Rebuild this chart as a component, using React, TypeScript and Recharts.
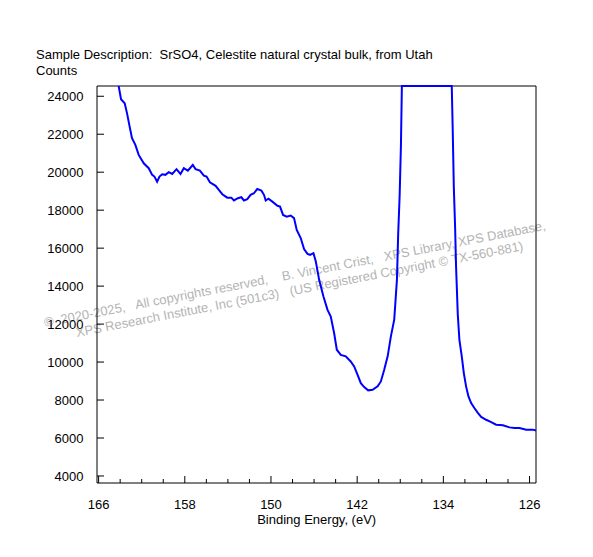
import React from 'react'
import { LineChart, Line, XAxis, YAxis, CartesianGrid } from 'recharts'

// binding energy (eV) and counts
const energies = [
  164.14, 163.92, 163.58, 163.36, 163.12, 162.9, 162.59, 162.28, 161.81, 161.35,
  161.03, 160.82, 160.57, 160.35, 160.1, 159.8, 159.49, 159.17, 158.77, 158.4,
  158.09, 157.72, 157.26, 157.0, 156.6, 156.23, 155.98, 155.67, 155.14, 154.84,
  154.52, 154.06, 153.68, 153.44, 153.07, 152.75, 152.51, 152.2, 151.89, 151.58,
  151.27, 150.89, 150.65, 150.49, 150.24, 149.87, 149.4, 149.16, 148.88, 148.54,
  148.17, 147.86, 147.61, 147.24, 146.93, 146.61, 146.37, 146.06, 145.84, 145.53,
  145.13, 144.75, 144.45, 144.14, 143.89, 143.52, 143.06, 142.6, 142.28, 141.96,
  141.66, 141.35, 140.98, 140.57, 140.1, 139.8, 139.49, 139.17, 138.87, 138.56,
  138.31, 138.19, 138.06, 137.94, 137.85, 133.22, 133.13, 133.03, 132.91, 132.82,
  132.66, 132.51, 132.29, 132.1, 131.89, 131.67, 131.42, 131.12, 130.8, 130.49,
  130.03, 129.56, 129.1, 128.47, 127.86, 127.4, 126.93, 126.31, 125.69, 125.4,
]
const counts = [
  24540, 23840, 23630, 23100, 22400, 21790, 21440, 20910, 20470, 20210,
  19860, 19770, 19500, 19770, 19890, 19860, 20000, 19910, 20160, 19910,
  20210, 20080, 20380, 20160, 20080, 19820, 19770, 19470, 19280, 19070,
  18840, 18660, 18660, 18510, 18630, 18680, 18510, 18580, 18810, 18890,
  19120, 19030, 18810, 18510, 18600, 18450, 18230, 18190, 17750, 17660,
  17720, 17580, 16960, 16530, 15950, 15700, 15650, 15740, 15300, 14330,
  13450, 12750, 12400, 11530, 10650, 10380, 10300, 10030, 9770, 9330,
  8890, 8680, 8510, 8540, 8720, 8980, 9590, 10300, 11350, 12230,
  14330, 16790, 18720, 21350, 24540, 24540, 22230, 19240, 17140, 15030,
  12500, 11170, 10300, 9420, 8720, 8190, 7840, 7580, 7320, 7110,
  6960, 6840, 6700, 6670, 6560, 6530, 6530, 6440, 6440, 6400,
]
const xTicks = [166, 164, 162, 160, 158, 156, 154, 152, 150, 148, 146, 144, 142, 140, 138, 136, 134, 132, 130, 128, 126]
const xLabels = [166, 158, 150, 142, 134, 126]
const yTicks = [4000, 6000, 8000, 10000, 12000, 14000, 16000, 18000, 20000, 22000, 24000]

const data = energies.map((e, i) => ({ energy: e, counts: counts[i] }))

const FONT = '"Liberation Sans", Arial, sans-serif'
const PRE = { whiteSpace: 'pre' as const }

const XTick = (props: any) => {
  const { x, y, payload } = props
  const major = xLabels.includes(payload.value)
  return (
    <g>
      <line x1={x} x2={x} y1={y} y2={y - (major ? 7 : 4)} stroke="#000" />
      {major && (
        <text x={x} y={y + 25.5} textAnchor="middle" fontSize={13} fontFamily={FONT} fill="#000">
          {payload.value}
        </text>
      )}
    </g>
  )
}

const YTick = (props: any) => {
  const { x, y, payload } = props
  return (
    <g>
      <line x1={x} x2={x + 7} y1={y} y2={y} stroke="#000" />
      <text x={x - 13.5} y={y + 4.7} textAnchor="end" fontSize={13} fontFamily={FONT} fill="#000">
        {payload.value}
      </text>
    </g>
  )
}

export default function App() {
  return (
    <div style={{ position: 'absolute', left: 0, top: 0, width: 593, height: 557, background: '#fff' }}>
      <svg width={593} height={557} style={{ position: 'absolute', left: 0, top: 0 }}>
        <g fontFamily={FONT} fontSize={13} fill="#000">
          <text x={36} y={59.3} xmlSpace="preserve" style={PRE}>
            {'Sample Description:  SrSO4, Celestite natural crystal bulk, from Utah'}
          </text>
          <text x={36} y={75}>Counts</text>
          <text x={316.7} y={524.3} textAnchor="middle">Binding Energy, (eV)</text>
        </g>
        <g fontFamily={FONT} fontSize={13} fill="#b4b4b4">
          <text x={45} y={327} transform="rotate(-11 45 327)" xmlSpace="preserve" style={PRE}>
            {'©  2020-2025,   All copyrights reserved,    B. Vincent Crist,   XPS Library, XPS Database,'}
          </text>
          <text x={77} y={337} transform="rotate(-11 77 337)" xmlSpace="preserve" style={PRE}>
            {'XPS Research Institute, Inc (501c3)   (US Registered Copyright © TX-560-881)'}
          </text>
        </g>
      </svg>
      <div style={{ position: 'absolute', left: 0, top: 0 }}>
        <LineChart width={593} height={557} data={data} margin={{ top: 86, right: 57, bottom: 44, left: 37 }}>
          {/* top and right edges of the frame */}
          <CartesianGrid
            stroke="#000"
            strokeOpacity={1}
            horizontalCoordinatesGenerator={({ offset }: any) => [offset.top]}
            verticalCoordinatesGenerator={({ offset }: any) => [offset.left + offset.width]}
          />
          <XAxis
            dataKey="energy"
            type="number"
            domain={[125.4, 166.15]}
            reversed
            ticks={xTicks}
            interval={0}
            height={30}
            tickSize={0}
            tickMargin={0}
            tickLine={false}
            tick={<XTick />}
            axisLine={{ stroke: '#000' }}
          />
          <YAxis
            type="number"
            domain={[3630, 24540]}
            ticks={yTicks}
            interval={0}
            width={60}
            tickSize={0}
            tickMargin={0}
            tickLine={false}
            tick={<YTick />}
            axisLine={{ stroke: '#000' }}
          />
          <Line
            type="linear"
            dataKey="counts"
            stroke="#0000ff"
            strokeWidth={2}
            dot={false}
            isAnimationActive={false}
          />
        </LineChart>
      </div>
    </div>
  )
}
